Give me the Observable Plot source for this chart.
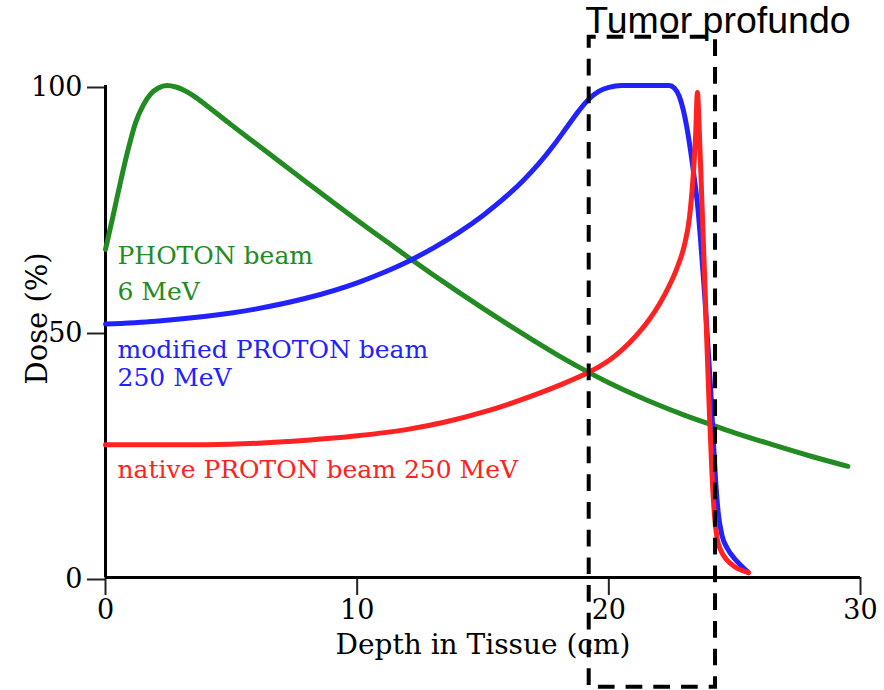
<!DOCTYPE html>
<html><head><meta charset="utf-8">
<script src="https://cdn.jsdelivr.net/npm/d3@7"></script>
<script src="https://cdn.jsdelivr.net/npm/@observablehq/plot@0.6"></script>
<style>body{margin:0;background:#fff}</style>
</head><body><div id="chart"></div>
<script>
// Photon beam 6 MeV
const photonDepth = [0, 0.3, 0.6, 0.9, 1.2, 1.5, 1.8, 2.1, 2.45, 2.8, 3.1, 3.5, 4.0, 5, 6, 7, 8, 9, 10, 11, 12, 13, 14, 15, 16, 17, 18, 19.2, 20, 21, 22, 23, 24.1, 25, 26.5, 28, 29.5];
const photonDose  = [66.7, 73.5, 80.5, 87.0, 92.5, 96.0, 98.3, 99.5, 100, 99.7, 99.1, 97.9, 96.0, 92.0, 88.1, 84.2, 80.3, 76.4, 72.6, 68.9, 65.2, 61.6, 58.1, 54.7, 51.4, 48.2, 45.1, 41.7, 39.6, 37.2, 35.0, 33.0, 31.0, 29.4, 27.0, 24.7, 22.6];
// Modified (spread-out) proton beam 250 MeV
const modDepth = [0, 2, 4, 6, 8, 10, 11, 12, 13, 14, 15, 16, 16.6, 17.2, 17.8, 18.3, 18.8, 19.2, 19.6, 20.0, 20.5, 21.0, 22.4, 22.6, 22.8, 22.96, 23.1, 23.24, 23.4, 23.52, 23.64, 23.8, 23.95, 24.05, 24.15, 24.24, 24.35, 24.5, 24.7, 25.0, 25.3, 25.55];
const modDose  = [51.5, 52.1, 53.1, 54.6, 56.8, 59.9, 61.9, 64.2, 66.9, 70.0, 73.6, 77.8, 80.7, 84.0, 87.8, 91.3, 94.8, 97.2, 98.8, 99.6, 100, 100, 100, 99.5, 97.8, 95.0, 91.5, 87.0, 81.0, 76.0, 69.0, 58.0, 46.0, 38.0, 28.0, 20.0, 13.0, 8.5, 6.0, 3.8, 2.2, 1.0];
// Native proton beam 250 MeV
const nativeDepth = [0, 4, 8, 10, 12, 13.5, 15, 16, 17, 18, 19.2, 19.6, 20.0, 20.4, 20.8, 21.2, 21.6, 22.0, 22.4, 22.7, 23.0, 23.2, 23.35, 23.45, 23.52, 23.6, 23.7, 23.8, 23.9, 24.0, 24.1, 24.2, 24.3, 24.45, 24.7, 25.0, 25.55];
const nativeDose  = [27.0, 27.0, 27.9, 28.8, 30.1, 31.6, 33.6, 35.2, 37.0, 39.0, 41.7, 42.8, 44.1, 45.7, 47.6, 49.8, 52.4, 55.5, 59.3, 62.8, 67.5, 73.0, 81.5, 90.0, 98.6, 90.0, 76.0, 62.0, 47.0, 33.0, 21.0, 12.5, 8.0, 5.5, 3.5, 2.2, 1.0];

const xTicks = [0, 10, 20, 30];
const yTicks = [0, 50, 100];
const tumorDepth = [19.22, 24.24];
const tumorDose = [-22.3, 109.8];
const tumorLabel = "Tumor profundo";
const xLabel = "Depth in Tissue (cm)";
const yLabel = "Dose (%)";

const green = "#228b22", blue = "#2222ff", red = "#ff2222";
const serif = "'DejaVu Serif', serif";
const series = (depth, dose) => depth.map((d, i) => ({depth: d, dose: dose[i]}));
const lineOpts = {x: "depth", y: "dose", curve: "monotone-x", strokeWidth: 5, strokeLinecap: "round", strokeLinejoin: "round"};

const chart = Plot.plot({
  width: 884, height: 690,
  marginLeft: 105, marginRight: 24, marginTop: 85, marginBottom: 113,
  x: {domain: [0, 30]},
  y: {domain: [0, 100]},
  style: {fontFamily: serif, fontSize: "27px", background: "#fff", overflow: "visible"},
  marks: [
    Plot.axisX({ticks: xTicks, tickSize: 18, tickPadding: 4, label: null, strokeWidth: 2, stroke: "#222", tickFormat: d => String(d)}),
    Plot.axisY({ticks: yTicks, tickSize: 18, tickPadding: 5, label: null, strokeWidth: 2, stroke: "#222", dy: 2, tickFormat: d => String(d)}),
    Plot.ruleX([0], {y1: 0, y2: 100, stroke: "#000", strokeWidth: 3}),
    Plot.ruleY([0], {x1: 0, x2: 30, stroke: "#000", strokeWidth: 3}),
    Plot.line(series(photonDepth, photonDose), {...lineOpts, stroke: green}),
    Plot.line(series(modDepth, modDose), {...lineOpts, stroke: blue}),
    Plot.line(series(nativeDepth, nativeDose), {...lineOpts, stroke: red}),
    Plot.rect([{x1: tumorDepth[0], x2: tumorDepth[1], y1: tumorDose[0], y2: tumorDose[1]}],
      {x1: "x1", x2: "x2", y1: "y1", y2: "y2", fill: "none", stroke: "#000", strokeWidth: 4, strokeDasharray: "16.7,11", strokeDashoffset: 9.7}),
    Plot.text([tumorLabel], {x: tumorDepth[0], y: tumorDose[1], text: d => d, textAnchor: "start", lineAnchor: "bottom", dx: -4, dy: -4, fontFamily: "'Liberation Sans', Arial, sans-serif", fontSize: 37.5, fill: "#000"}),
    Plot.text(["PHOTON beam"], {x: 0.477, y: 63.8, text: d => d, textAnchor: "start", lineAnchor: "bottom", fontSize: 25, fill: green}),
    Plot.text(["6 MeV"], {x: 0.477, y: 56.5, text: d => d, textAnchor: "start", lineAnchor: "bottom", fontSize: 25, fill: green}),
    Plot.text(["modified PROTON beam"], {x: 0.477, y: 44.7, text: d => d, textAnchor: "start", lineAnchor: "bottom", fontSize: 25, fill: blue}),
    Plot.text(["250 MeV"], {x: 0.477, y: 39.0, text: d => d, textAnchor: "start", lineAnchor: "bottom", fontSize: 25, fill: blue}),
    Plot.text(["native PROTON beam 250 MeV"], {x: 0.477, y: 20.3, text: d => d, textAnchor: "start", lineAnchor: "bottom", fontSize: 25, fill: red}),
    Plot.text([xLabel], {frameAnchor: "bottom", text: d => d, textAnchor: "middle", lineAnchor: "bottom", dy: 76, fontSize: 28, fill: "#000"}),
    Plot.text([yLabel], {frameAnchor: "left", text: d => d, textAnchor: "middle", rotate: -90, lineAnchor: "bottom", dx: -59, dy: -13, fontSize: 29, fill: "#000"})
  ]
});
document.getElementById("chart").appendChild(chart);
</script>
</body></html>
